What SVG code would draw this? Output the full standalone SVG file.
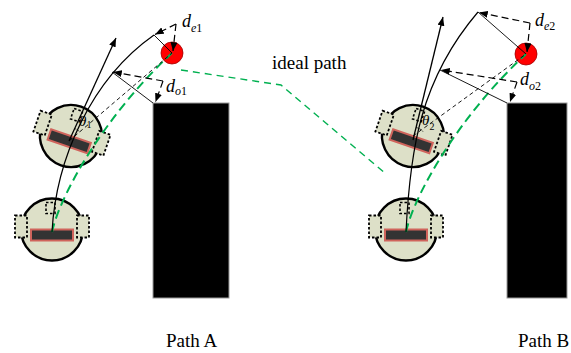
<svg xmlns="http://www.w3.org/2000/svg" xmlns:xlink="http://www.w3.org/1999/xlink" width="571" height="353" viewBox="0 0 571 353">
  <style>
    .obst { fill: #000; stroke: #9a9a9a; stroke-width: 1; }
    .goal { fill: #ff0000; stroke: #a00000; stroke-width: 0.8; }
    .body { fill: #dde0c8; stroke: #000; stroke-width: 2.4; }
    .wheel { fill: #dde0c8; stroke: #000; stroke-width: 1.8; stroke-dasharray: 2.5 2; }
    .caster { fill: none; stroke: #000; stroke-width: 1.6; stroke-dasharray: 2.5 2; }
    .bar { fill: #333; stroke: #d0645c; stroke-width: 2; }
    .path { fill: none; stroke: #000; stroke-width: 1.2; }
    .head { fill: none; stroke: #000; stroke-width: 1.3; marker-end: url(#ah); }
    .thin { fill: none; stroke: #000; stroke-width: 0.9; }
    .sight { fill: none; stroke: #000; stroke-width: 0.9; stroke-dasharray: 4 3; }
    .dim { fill: none; stroke: #000; stroke-width: 1.2; stroke-dasharray: 7 4; marker-end: url(#ah); }
    .track { fill: none; stroke: #00b050; stroke-width: 2; stroke-dasharray: 9 5; }
    .ideal { fill: none; stroke: #00b050; stroke-width: 1.4; stroke-dasharray: 7 5; }
    .ang { fill: none; stroke: #000; stroke-width: 0.8; stroke-dasharray: 2 1.5; }
    text { font-family: "Liberation Serif", "Times New Roman", serif; fill: #000; }
    .sym { font-style: italic; font-size: 18px; }
    .sub { font-size: 12px; }
    .th { font-style: italic; font-size: 15px; }
    .thsub { font-size: 10px; }
    .cap { font-size: 19px; }
  </style>
  <defs>
    <marker id="ah" viewBox="0 0 10 8" refX="10" refY="4" markerWidth="9" markerHeight="7" markerUnits="userSpaceOnUse" orient="auto">
      <path d="M0,0 L10,4 L0,8 z" fill="#000"/>
    </marker>
    <!-- differential-drive robot, centred on its body -->
    <g id="robot">
      <circle class="body" cx="0" cy="0" r="31"/>
      <rect class="wheel" x="-37" y="-14" width="12" height="22"/>
      <rect class="wheel" x="25" y="-14" width="12" height="22"/>
      <rect class="caster" x="-6" y="-27" width="9" height="11"/>
      <rect class="bar" x="-21" y="0" width="42" height="11"/>
    </g>
  </defs>

  <!-- obstacles -->
  <g id="obstacle-a"><rect class="obst" x="153" y="103" width="76" height="195"/></g>
  <g id="obstacle-b"><rect class="obst" x="507" y="103" width="60" height="195"/></g>

  <!-- goal points -->
  <g id="goal-a"><circle class="goal" cx="172" cy="53" r="11"/></g>
  <g id="goal-b"><circle class="goal" cx="526" cy="54" r="11"/></g>

  <!-- robots -->
  <g id="robot-a-start"><use xlink:href="#robot" transform="translate(52,229.5)"/></g>
  <g id="robot-a-turn"><use xlink:href="#robot" transform="translate(71,136) rotate(19)"/></g>
  <g id="robot-b-start"><use xlink:href="#robot" transform="translate(406,229.5)"/></g>
  <g id="robot-b-turn"><use xlink:href="#robot" transform="translate(413,136) rotate(19)"/></g>

  <g id="connectors">
    <!-- ideal path -->
    <path class="ideal" d="M181,70 L281,85 L386,174"/>
    <!-- tracked paths toward the goals -->
    <path class="track" d="M52,232 C60,195 105,115 172,53"/>
    <path class="track" d="M406,232 C414,195 459,116 526,54"/>
    <!-- predicted trajectories -->
    <path class="path" d="M52,232 C56,160 90,80 154,35"/>
    <path class="path" d="M406,232 C410,150 420,80 478,12"/>
    <!-- heading vectors -->
    <line class="head" x1="69" y1="141" x2="116" y2="38"/>
    <line class="head" x1="413" y1="140" x2="443" y2="17"/>
    <!-- lines of sight to the goals -->
    <line class="sight" x1="69" y1="141" x2="172" y2="53"/>
    <line class="sight" x1="413" y1="136" x2="526" y2="54"/>
    <!-- heading error arcs -->
    <path class="ang" d="M74.5,128.5 A14,14 0 0 1 80,132"/>
    <path class="ang" d="M416,127.5 A13,13 0 0 1 423,131.5"/>
    <!-- distances, path A -->
    <line class="thin" x1="154" y1="35" x2="172" y2="53"/>
    <line class="thin" x1="112" y1="72" x2="153" y2="103"/>
    <path class="dim" d="M176,24 L155,34.5"/>
    <path class="dim" d="M176,24 L173,51"/>
    <path class="dim" d="M163,81 L113,72"/>
    <path class="dim" d="M163,81 L155.5,102"/>
    <!-- distances, path B -->
    <line class="thin" x1="478" y1="12" x2="526" y2="54"/>
    <line class="thin" x1="440" y1="70" x2="507" y2="103"/>
    <path class="dim" d="M530,23 L479,12.5"/>
    <path class="dim" d="M530,23 L527,52"/>
    <path class="dim" d="M517,82 L441,70"/>
    <path class="dim" d="M517,82 L510,102"/>
  </g>

  <g id="labels">
    <text class="sym" x="182" y="27">d<tspan class="sub" dy="5">e</tspan><tspan class="sub" font-style="normal">1</tspan></text>
    <text class="sym" x="166" y="92">d<tspan class="sub" dy="3">o</tspan><tspan class="sub" font-style="normal">1</tspan></text>
    <text class="sym" x="535" y="26">d<tspan class="sub" dy="4">e</tspan><tspan class="sub" font-style="normal">2</tspan></text>
    <text class="sym" x="520" y="85">d<tspan class="sub" dy="5">o</tspan><tspan class="sub" font-style="normal">2</tspan></text>
    <text class="th" x="79" y="126">θ<tspan class="thsub" font-style="normal" dy="2">1</tspan></text>
    <text class="th" x="422" y="125">θ<tspan class="thsub" font-style="normal" dy="5">2</tspan></text>
    <text class="cap" x="272" y="69">ideal path</text>
    <text class="cap" x="166" y="347">Path A</text>
    <text class="cap" x="518" y="347">Path B</text>
  </g>
</svg>
